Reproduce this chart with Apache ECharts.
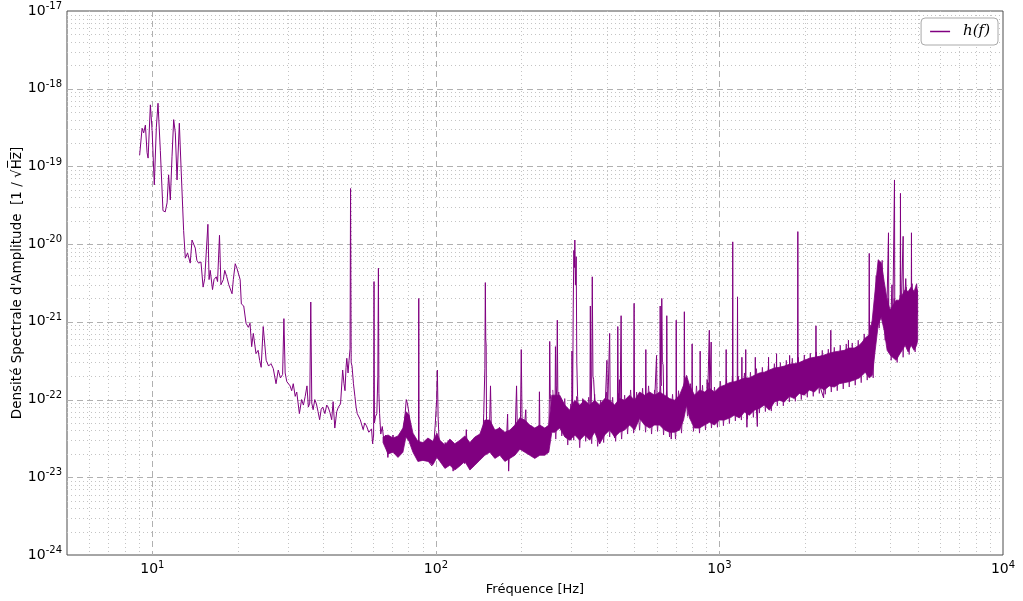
<!DOCTYPE html>
<html>
<head>
<meta charset="utf-8">
<script src="https://cdn.jsdelivr.net/npm/echarts@6/dist/echarts.min.js"></script>
<style>html,body{margin:0;padding:0;background:#fff}#c{width:1023px;height:601px}</style>
</head>
<body>
<div id="c"></div>
<script>
// ---- data ----
const xMajorTicks = [10, 100, 1000, 10000];
const yMajorTicks = [1e-24, 1e-23, 1e-22, 1e-21, 1e-20, 1e-19, 1e-18, 1e-17];

// low-frequency trace [Hz, ASD]
const lowTrace = [[9.02,1.4e-19],[9.2,3.1e-19],[9.32,2.7e-19],[9.45,3.4e-19],[9.58,1.5e-19],[9.66,1.28e-19],[9.84,6.2e-19],[9.98,2.9e-19],[10.16,5.8e-20],[10.33,3.2e-19],[10.47,6.5e-19],[10.67,1.6e-19],[10.9,2.7e-20],[11.1,2.6e-20],[11.27,3.4e-20],[11.41,7.8e-20],[11.57,3.7e-20],[11.73,1.33e-19],[11.89,4.0e-19],[12.05,2.7e-19],[12.22,6.7e-20],[12.45,3.6e-19],[12.62,1.0e-19],[12.89,1.5e-20],[13.07,6.6e-21],[13.31,7.7e-21],[13.6,5.7e-21],[13.8,1.13e-20],[14.17,8.9e-21],[14.35,6.2e-21],[14.56,5.7e-21],[14.84,5.9e-21],[15.1,2.8e-21],[15.3,3.6e-21],[15.5,3.4e-21],[15.7,1.8e-20],[15.85,3.5e-21],[16.0,4.6e-21],[16.3,2.6e-21],[16.5,3.5e-21],[16.8,3.8e-21],[16.98,3.3e-21],[17.25,1.3e-20],[17.45,3.0e-21],[17.8,3.5e-21],[18.0,4.6e-21],[18.3,3.8e-21],[18.6,3.0e-21],[19.1,2.3e-21],[19.3,3.5e-21],[19.6,5.6e-21],[19.87,4.9e-21],[20.1,5.1e-21],[20.4,3.5e-21],[20.6,1.7e-21],[21.0,1.6e-21],[21.4,9.6e-22],[21.8,8.5e-22],[22.1,9.6e-22],[22.4,4.8e-22],[22.7,7.1e-22],[23.2,3.9e-22],[23.6,4.3e-22],[23.9,3.2e-22],[24.2,2.6e-22],[24.6,8.7e-22],[25.2,3.2e-22],[25.7,2.7e-22],[26.2,2.9e-22],[26.7,2.5e-22],[27.3,1.6e-22],[27.8,2.4e-22],[28.3,1.9e-22],[28.8,2.1e-22],[29.1,1.1e-21],[29.4,2.2e-22],[29.8,1.7e-22],[30.6,1.5e-22],[31.0,1.3e-22],[31.4,1.6e-22],[31.9,1.1e-22],[32.3,1.25e-22],[33.0,6.6e-23],[33.6,1.0e-22],[34.1,8.5e-23],[34.6,1.1e-22],[35.1,1.5e-22],[35.5,8.0e-23],[35.9,9e-23],[36.2,1.8e-21],[36.5,9e-23],[36.9,7.4e-23],[37.4,1.0e-22],[37.9,8.8e-23],[38.4,7.0e-23],[38.9,5.5e-23],[39.4,7.5e-23],[39.9,8.0e-23],[40.6,6.6e-23],[41.2,8.5e-23],[41.7,8.0e-23],[42.3,6.8e-23],[42.9,5.5e-23],[43.4,9.4e-23],[44.0,4.3e-23],[44.7,7.0e-23],[45.3,8.0e-23],[46.1,8.8e-23],[46.9,2.4e-22],[47.4,1.6e-22],[47.8,1.3e-22],[48.2,2.6e-22],[48.5,3.4e-22],[49.0,2.2e-22],[49.4,3.2e-22],[49.8,4.5e-22],[50.0,5.2e-20],[50.25,3.0e-22],[50.6,2.7e-22],[51.2,1.6e-22],[51.8,1.1e-22],[52.3,8.0e-23],[52.8,6.6e-23],[53.5,7.0e-23],[54.1,5.5e-23],[54.7,5.2e-23],[55.4,4.1e-23],[56.1,5.0e-23],[56.9,4.6e-23]];

// mid-frequency trace [Hz, ASD]
const midTrace = [[58.0,3.8e-23],[58.7,3.6e-23],[59.3,4.2e-23],[59.8,2.7e-23],[60.3,3.5e-23],[60.5,3.3e-21],[60.7,5.0e-23],[61.2,6.0e-23],[61.9,6.6e-23],[62.4,2.0e-22],[62.7,4.9e-21],[62.95,1.2e-22],[63.3,6.6e-23],[63.9,3.6e-23],[64.7,4.5e-23],[65.5,3.0e-23],[66.6,3.5e-23],[67.7,1.8e-23],[68.8,3.2e-23],[69.9,2.7e-23],[70.6,3.5e-23],[71.4,2.0e-23],[72.5,2.8e-23],[73.6,3.0e-23],[74.6,2.0e-23],[75.7,2.3e-23],[76.8,4.0e-23],[77.9,6.6e-23],[78.6,1.0e-22],[79.4,8.8e-23],[80.2,7.0e-23],[81.1,4.6e-23],[82.2,3.5e-23],[83.3,2.7e-23],[84.6,2.2e-23],[86.0,1.8e-23],[86.8,2.5e-23],[87.0,2.0e-21],[87.25,2.5e-23],[88.3,2.5e-23],[89.7,2.0e-23],[91.3,1.66e-23],[92.6,2.5e-23],[94.0,2.2e-23],[95.3,1.5e-23],[96.8,1.4e-23],[98.2,2.5e-23],[99.4,4.6e-23],[100.6,1.0e-22],[101.2,2.4e-22],[101.8,6.0e-23],[102.6,3.0e-23],[103.5,2.5e-23],[105.0,1.8e-23],[106.4,1.66e-23],[107.8,2.8e-23],[109.2,2.7e-23],[110.6,1.8e-23],[112.0,1.8e-23],[113.5,2.5e-23],[115.0,1.2e-23],[116.5,2.0e-23],[118.0,2.5e-23],[119.5,1.6e-23],[121.0,1.4e-23],[122.8,2.2e-23],[124.7,2.0e-23],[126.3,1.5e-23],[128.0,4.1e-23],[129.9,1.4e-23],[131.5,2.0e-23],[133.2,2.5e-23],[135.0,1.7e-23],[137.0,1.5e-23],[139.0,2.5e-23],[141.2,3.0e-23],[142.9,2.0e-23],[144.8,1.8e-23],[146.3,3.0e-23],[147.5,6.6e-23],[148.8,2.5e-22],[149.4,3.2e-21],[149.9,6.0e-22],[150.4,5.0e-22],[150.9,3.5e-23],[151.5,4.6e-23],[153.0,2.5e-23],[154.5,4.0e-23],[155.8,1.5e-22],[157.0,3.5e-23],[158.5,2.2e-23],[160.0,3.0e-23],[161.5,2.0e-23],[163.0,2.5e-23],[165.0,3.0e-23],[167.5,4.4e-23],[170.0,2.5e-23],[172.5,2.0e-23],[175.0,3.0e-23],[177.0,2.5e-23],[179.0,6.5e-23],[180.5,1.2e-23],[182.3,3.0e-23],[184.4,3.5e-23],[186.0,2.2e-23],[188.0,2.5e-23],[190.0,3.0e-23],[192.5,1.5e-22],[194.0,3.0e-23],[197.0,3.5e-23],[198.7,5.0e-23],[200.0,4.4e-22],[201.5,4.0e-23],[204.0,3.5e-23],[207.5,7.4e-23],[209.0,3.0e-23],[211.0,3.0e-23],[214.0,4.0e-23],[216.8,4.6e-23],[219.5,3.0e-23],[222.3,2.5e-23],[225.0,3.5e-23],[228.0,3.5e-23],[231.0,4.0e-23],[231.8,1.26e-22],[232.8,3.5e-23],[236.0,3.0e-23],[240.0,2.5e-23],[243.0,3.5e-23],[246.0,3.0e-23],[250.0,3.2e-23]];

// high-frequency trace [Hz, ASD] (lines and mid-band level)
const highTrace = [[251.3,1.0e-22],[252.0,5.6e-22],[253.0,1.2e-22],[256.0,7.0e-23],[260.0,6.0e-23],[263.0,5.0e-23],[264.0,4.8e-22],[265.5,1.0e-22],[267.0,1.5e-22],[268.0,1.05e-21],[269.5,6.0e-23],[273.0,7.0e-23],[276.0,7.0e-23],[280.0,8.8e-23],[284.0,5.0e-23],[288.0,6.0e-23],[292.0,4.1e-23],[296.0,5.0e-23],[299.0,3.0e-23],[301.0,4.0e-23],[302.0,4.2e-22],[303.5,8.0e-23],[305.0,1.5e-21],[306.5,8.3e-21],[308.0,5.0e-21],[309.0,1.13e-20],[310.5,3.0e-21],[312.5,6.9e-21],[314.0,3.0e-22],[316.0,1.1e-22],[320.0,5.0e-23],[322.5,3.2e-23],[326.0,6.0e-23],[331.0,1.0e-22],[336.0,6.0e-23],[340.0,8.8e-23],[345.0,6.0e-23],[349.0,4.1e-23],[350.5,1.6e-21],[352.0,6.0e-23],[354.5,2.0e-22],[356.0,3.8e-21],[358.0,2.0e-22],[360.0,1.8e-22],[364.0,8.0e-23],[368.0,6.0e-23],[373.0,5.0e-23],[378.0,2.7e-23],[383.0,6.0e-23],[388.0,8.8e-23],[394.0,6.0e-23],[399.0,6.0e-23],[401.0,3.2e-22],[403.0,6.0e-23],[408.5,6.0e-23],[410.0,7.1e-22],[412.0,6.0e-23],[418.0,5.0e-23],[427.0,3.2e-23],[432.0,6.0e-23],[436.5,7.0e-23],[438.0,8.7e-22],[440.0,7.0e-23],[444.0,1.8e-22],[446.0,7.0e-23],[448.5,7.0e-23],[450.0,1.2e-21],[452.0,7.0e-23],[460.0,6.0e-23],[467.0,5.1e-23],[474.0,6.5e-23],[480.0,8.0e-23],[490.0,6.0e-23],[498.0,7.0e-23],[500.0,1.73e-21],[502.0,7.0e-23],[510.0,6.0e-23],[521.0,1.1e-22],[528.0,6.0e-23],[535.0,7.0e-23],[542.0,7.0e-23],[548.0,7.0e-23],[550.0,4.4e-22],[552.0,7.0e-23],[560.0,6.5e-23],[570.0,4.6e-23],[580.0,6.0e-23],[589.0,7.4e-23],[597.0,7.0e-23],[600.0,3.7e-22],[603.0,7.0e-23],[610.0,7.0e-23],[616.5,7.0e-23],[618.0,1.6e-21],[620.0,2.0e-22],[623.0,1.5e-22],[626.0,2.0e-21],[629.0,3.0e-22],[633.0,2.8e-22],[637.0,7.0e-23],[644.0,6.5e-23],[650.5,7.0e-23],[652.0,1.2e-21],[654.0,7.0e-23],[662.0,7.0e-23],[670.0,6.0e-23],[676.0,3.1e-23],[684.0,7.0e-23],[695.0,7.0e-23],[702.5,7.0e-23],[704.0,1.05e-21],[706.0,7.0e-23],[720.0,7.5e-23],[735.0,7.0e-23],[745.0,1.0e-22],[750.5,1.5e-22],[752.0,1.35e-21],[754.0,2.0e-22],[765.0,2.0e-22],[775.0,1.0e-22],[790.0,7.0e-23],[799.5,7.5e-23],[801.0,5.2e-22],[803.0,7.5e-23],[820.0,7.5e-23],[840.0,7.0e-23],[853.5,7.5e-23],[855.0,4.2e-22],[857.0,7.5e-23],[880.0,8.0e-23],[903.0,8.0e-23],[905.0,1.8e-22],[907.0,8.0e-23],[918.0,8.0e-23],[921.0,7.8e-22],[924.0,1.0e-22],[933.0,1.0e-22],[935.0,5.5e-22],[937.0,9.0e-23],[960.0,9.0e-23],[990.0,9.0e-23],[1020.0,9.5e-23],[1053.0,9.5e-23],[1056.0,4.4e-22],[1059.0,1.0e-22],[1090.0,1.0e-22],[1111.0,1.0e-22],[1114.0,1.07e-20],[1117.0,1.0e-22],[1155.0,1.0e-22],[1158.0,2.1e-21],[1161.0,1.0e-22],[1197.0,1.1e-22],[1200.0,3.5e-22],[1203.0,1.1e-22],[1235.0,1.1e-22],[1238.0,4.4e-22],[1241.0,1.1e-22],[1250.0,4.4e-23],[1258.0,1.1e-22],[1300.0,1.2e-22],[1335.0,1.2e-22],[1338.0,3.5e-22],[1341.0,1.2e-22],[1360.0,4.5e-23],[1368.0,1.3e-22],[1420.0,1.3e-22],[1486.0,1.4e-22],[1490.0,3.5e-22],[1494.0,1.4e-22],[1586.0,1.5e-22],[1590.0,3.9e-22],[1594.0,1.5e-22],[1680.0,1.6e-22],[1764.0,1.7e-22],[1768.0,3.7e-22],[1772.0,1.7e-22],[1885.0,1.8e-22],[1890.0,1.45e-20],[1895.0,1.8e-22],[2000.0,1.9e-22],[2100.0,2.0e-22],[2185.0,2.1e-22],[2190.0,8.9e-22],[2195.0,2.1e-22],[2330.0,1.05e-22],[2340.0,2.2e-22],[2465.0,2.4e-22],[2470.0,7.8e-22],[2475.0,2.4e-22],[2650.0,2.6e-22],[2843.0,2.8e-22],[2850.0,5.8e-22],[2857.0,2.8e-22],[3000.0,3.0e-22],[3150.0,3.2e-22],[3280.0,4.0e-22],[3365.0,4.0e-22],[3375.0,7.6e-21],[3385.0,4.0e-22],[3440.0,3.0e-22],[3500.0,5.0e-22],[3600.0,2.5e-21],[3660.0,4.0e-21],[3800.0,2.0e-21],[3880.0,7.0e-22],[3935.0,7.0e-22],[3946.0,1.4e-20],[3957.0,7.0e-22],[4000.0,6.0e-22],[4060.0,3.0e-21],[4080.0,7.0e-22],[4130.0,7.0e-22],[4143.0,6.7e-20],[4155.0,7.0e-22],[4200.0,6.0e-22],[4338.0,8.0e-22],[4349.0,4.5e-20],[4360.0,9.0e-22],[4400.0,9.0e-22],[4445.0,1.26e-20],[4455.0,1.0e-21],[4510.0,1.0e-21],[4540.0,3.6e-21],[4600.0,1.0e-21],[4745.0,1.0e-21],[4755.0,1.4e-20],[4765.0,1.0e-21],[4850.0,1.0e-21],[4950.0,1.2e-21],[5000.0,1.4e-21]];

// fine noise excursions at the edges of the dense band [Hz, ASD]
const noiseTrace = [[258.3,1.33e-22],[264.7,3.1e-23],[271.2,1.25e-22],[277.9,3.4e-23],[284.7,1.03e-22],[291.7,2.6e-23],[298.9,8.8e-23],[306.3,3.0e-23],[313.8,1.1e-22],[321.5,2.4e-23],[329.4,1.03e-22],[337.5,2.9e-23],[345.8,1.07e-22],[354.3,2.7e-23],[363.0,1.17e-22],[372.0,2.5e-23],[381.1,9.8e-23],[390.5,2.8e-23],[400.1,1.25e-22],[410.0,3.3e-23],[420.1,1.07e-22],[430.4,2.9e-23],[441.0,1.2e-22],[451.9,3.1e-23],[463.0,1.14e-22],[474.4,3.6e-23],[486.1,1.33e-22],[498.1,3.7e-23],[510.3,1.25e-22],[522.8,4.05e-23],[535.7,1.4e-22],[548.9,3.8e-23],[562.4,1.5e-22],[576.2,3.6e-23],[590.5,1.33e-22],[605.0,3.9e-23],[619.9,1.5e-22],[635.2,3.5e-23],[650.8,1.3e-22],[666.8,3.3e-23],[683.2,1.17e-22],[700.0,3.1e-23],[717.3,1.3e-22],[734.9,3.7e-23],[753.0,2.0e-22],[771.5,6.1e-23],[790.5,1.6e-22],[810.0,3.9e-23],[829.9,1.5e-22],[850.5,3.7e-23],[871.4,1.53e-22],[892.9,4.05e-23],[914.8,1.65e-22],[937.3,4.3e-23],[960.4,1.45e-22],[984.0,4.4e-23],[1008,1.72e-22],[1033,4.6e-23],[1059,1.85e-22],[1084,4.9e-23],[1111,1.95e-22],[1138,5.3e-23],[1166,2.0e-22],[1195,5.45e-23],[1225,2.2e-22],[1255,5.6e-23],[1286,2.25e-22],[1317,5.9e-23],[1350,2.5e-22],[1383,6.7e-23],[1417,2.6e-22],[1452,7.0e-23],[1488,2.7e-22],[1524,7.1e-23],[1562,2.9e-22],[1600,8.3e-23],[1640,3.0e-22],[1680,8.3e-23],[1721,3.2e-22],[1764,9.3e-23],[1807,3.4e-22],[1852,9.5e-23],[1897,3.5e-22],[1944,1.0e-22],[1992,3.75e-22],[2041,1.07e-22],[2091,3.95e-22],[2142,1.1e-22],[2195,4.1e-22],[2250,1.2e-22],[2305,4.3e-22],[2362,1.17e-22],[2420,4.45e-22],[2480,1.25e-22],[2541,4.7e-22],[2603,1.3e-22],[2667,5.0e-22],[2733,1.37e-22],[2800,5.2e-22],[2869,1.45e-22],[2940,5.35e-22],[3012,1.53e-22],[3086,5.8e-22],[3162,1.65e-22],[3240,7.0e-22],[3320,1.78e-22],[3402,9.1e-22],[3485,1.9e-22],[3571,3.9e-21],[3659,8.3e-22],[3749,6.2e-21],[3841,5.8e-22],[3936,2.0e-21],[4033,3.2e-22],[4132,2.0e-21],[4234,3.0e-22],[4338,2.2e-21],[4445,3.5e-22],[4554,2.8e-21],[4667,3.8e-22],[4781,3.1e-21],[4899,4.1e-22],[4995,2.6e-21]];

// envelope of the dense noise band: frequency, upper and lower ASD
const bandFreq = [65.1,67.8,70.6,73.5,76.5,78.4,80.4,83.0,86.4,90.0,93.7,97.6,100.8,
 103.3,107.6,112.0,116.6,121.5,126.5,131.8,137.2,142.9,148.8,155.0,161.4,168.1,175.1,182.3,189.9,197.7,205.9,214.3,223.2,232.5,242.1,250.1,
 256.3,262.6,
 273.4,284.8,296.5,308.8,321.4,334.8,348.6,363.0,378.0,393.7,410.0,427.0,444.6,463.0,482.1,502.1,522.8,544.5,567.0,590.5,614.8,640.3,666.8,694.4,723.2,
 747.1,765.4,
 784.2,816.6,850.5,885.7,922.2,960.4,1000,1041,1084,1129,1176,1225,1275,1328,1383,1440,1500,1562,1627,1694,1764,1837,1913,1992,2075,2161,2250,2343,2440,2541,2646,2755,2869,2988,3112,
 3188,3267,
 3375,3457,3542,3629,3718,3810,3903,3999,4097,4198,4304,4409,4517,4628,4742,4858,4960,
 5000];
const bandHi = [3.3e-23,3.5e-23,3.2e-23,3.4e-23,4.3e-23,7.0e-23,6.3e-23,3.7e-23,2.9e-23,2.8e-23,3.2e-23,2.9e-23,3.7e-23,
 3.0e-23,2.6e-23,3.1e-23,2.7e-23,3.0e-23,3.4e-23,2.8e-23,3.3e-23,3.6e-23,5.45e-23,5.45e-23,4.05e-23,4.3e-23,3.8e-23,4.05e-23,4.7e-23,5.8e-23,5.45e-23,4.7e-23,4.3e-23,4.7e-23,4.3e-23,4.7e-23,
 1.14e-22,1.14e-22,
 1.14e-22,8.5e-23,7.3e-23,9.8e-23,8.5e-23,9.8e-23,8.5e-23,9.8e-23,8.5e-23,1.03e-22,9.8e-23,8.5e-23,1.03e-22,9.8e-23,1.14e-22,9.8e-23,1.25e-22,1.14e-22,1.25e-22,1.14e-22,1.25e-22,1.14e-22,1.03e-22,9.8e-23,1.14e-22,
 1.53e-22,2.05e-22,
 1.53e-22,1.14e-22,1.33e-22,1.25e-22,1.4e-22,1.25e-22,1.45e-22,1.53e-22,1.65e-22,1.7e-22,1.78e-22,1.9e-22,1.9e-22,2.05e-22,2.2e-22,2.25e-22,2.4e-22,2.55e-22,2.6e-22,2.7e-22,2.85e-22,2.9e-22,3.0e-22,3.2e-22,3.4e-22,3.5e-22,3.6e-22,3.75e-22,3.95e-22,4.1e-22,4.2e-22,4.3e-22,4.6e-22,4.6e-22,5.0e-22,
 5.5e-22,6.2e-22,
 6.8e-22,1.05e-21,2.6e-21,6.3e-21,5.8e-21,3.3e-21,1.9e-21,1.42e-21,1.65e-21,1.9e-21,1.9e-21,2.2e-21,2.6e-21,2.45e-21,2.8e-21,2.45e-21,3.1e-21,
 2.2e-21];
const bandLo = [2.8e-23,2.0e-23,2.1e-23,1.8e-23,2.1e-23,3.3e-23,2.9e-23,2.1e-23,1.6e-23,1.65e-23,1.6e-23,1.45e-23,1.8e-23,
 1.6e-23,1.3e-23,1.43e-23,1.24e-23,1.4e-23,1.6e-23,1.24e-23,1.43e-23,1.66e-23,1.92e-23,2.1e-23,1.75e-23,1.92e-23,1.6e-23,1.75e-23,1.92e-23,2.3e-23,2.1e-23,1.92e-23,1.75e-23,1.92e-23,1.92e-23,2.1e-23,
 3.8e-23,3.8e-23,
 4.3e-23,3.3e-23,3.0e-23,3.5e-23,3.0e-23,3.5e-23,3.0e-23,3.8e-23,2.7e-23,3.5e-23,4.05e-23,3.3e-23,3.8e-23,4.05e-23,4.7e-23,4.05e-23,5.7e-23,4.7e-23,4.3e-23,4.7e-23,4.7e-23,4.05e-23,3.8e-23,3.8e-23,4.05e-23,
 5.45e-23,8.5e-23,
 5.8e-23,4.3e-23,4.3e-23,4.7e-23,5.1e-23,4.7e-23,5.45e-23,5.45e-23,5.8e-23,6.3e-23,5.8e-23,6.9e-23,6.3e-23,7.3e-23,7.7e-23,8.5e-23,7.3e-23,9.3e-23,9.8e-23,9.3e-23,1.1e-22,1.03e-22,1.2e-22,1.14e-22,1.33e-22,1.25e-22,1.45e-22,1.33e-22,1.5e-22,1.45e-22,1.6e-22,1.65e-22,1.7e-22,1.78e-22,1.9e-22,
 2.05e-22,2.25e-22,
 1.9e-22,2.05e-22,4.3e-22,9.1e-22,1.15e-21,7.8e-22,4.3e-22,3.75e-22,3.45e-22,3.2e-22,3.75e-22,4.3e-22,5.0e-22,4.1e-22,5.0e-22,4.3e-22,5.0e-22,
 5.8e-22];

// ---- drawing ----
const PURPLE = '#800080';
const traceData = lowTrace.concat(midTrace, highTrace);

function isPow10(v) { const e = Math.log10(v); return Math.abs(e - Math.round(e)) < 1e-6; }
function powLabel(v) {
  if (!isPow10(v)) return '';
  return '{b|10}{s|' + Math.round(Math.log10(v)) + '}';
}
const richLbl = {
  b: { fontSize: 14, fontFamily: 'DejaVu Sans', color: '#000' },
  s: { fontSize: 10, fontFamily: 'DejaVu Sans', color: '#000', padding: [0, 0, 9, 0] }
};

// grid-line positions (major at decades, minor at 2..9 x decade)
const xMinor = [], yMinor = [];
[1, 10, 100, 1000].forEach(function (d) {
  for (let k = 2; k <= 9; k++) { if (d * k > 5 && d * k < 10000) xMinor.push(d * k); }
});
yMajorTicks.forEach(function (d) {
  if (d < 1e-17) for (let k = 2; k <= 9; k++) yMinor.push(d * k);
});

const chart = echarts.init(document.getElementById('c'), null, { renderer: 'canvas' });
chart.setOption({
  animation: false,
  backgroundColor: '#fff',
  grid: { left: 67, right: 20, top: 11, bottom: 46, outerBoundsMode: 'none', containLabel: false,
          show: true, borderColor: '#4d4d4d', borderWidth: 1, backgroundColor: 'transparent' },
  legend: {
    data: [{ name: 'h(f)', icon: 'rect' }],
    right: 25, top: 18,
    itemWidth: 20, itemHeight: 1.5,
    padding: [6, 8, 6, 9],
    borderColor: '#aaaaaa', borderWidth: 1, borderRadius: 4,
    backgroundColor: '#fff',
    textStyle: { fontFamily: 'DejaVu Serif', fontStyle: 'italic', fontSize: 15, color: '#000', padding: [0, 0, 0, 8] }
  },
  xAxis: {
    type: 'log', logBase: 10, min: 5, max: 10000,
    name: 'Fréquence [Hz]', nameLocation: 'middle', nameGap: 28, nameMoveOverlap: false,
    nameTextStyle: { fontFamily: 'DejaVu Sans', fontSize: 13, color: '#000' },
    axisLine: { show: false }, axisTick: { show: false },
    splitLine: { show: false }, minorSplitLine: { show: false },
    axisLabel: { customValues: xMajorTicks, formatter: powLabel, rich: richLbl, margin: 5 }
  },
  yAxis: {
    type: 'log', logBase: 10, min: 1e-24, max: 1e-17,
    name: "Densité Spectrale d'Amplitude  [1 / \u221AH\u0305z\u0305]", nameLocation: 'middle', nameGap: 43, nameRotate: 90,
    nameMoveOverlap: false,
    nameTextStyle: { fontFamily: 'DejaVu Sans', fontSize: 13.5, color: '#000' },
    axisLine: { show: false }, axisTick: { show: false },
    splitLine: { show: false }, minorSplitLine: { show: false },
    axisLabel: { customValues: yMajorTicks, formatter: powLabel, rich: richLbl, margin: 5 }
  },
  series: [
    {
      type: 'custom', name: 'grid', silent: true, z: 1,
      data: [[5, 1e-24]],
      renderItem: function (params, api) {
        const lo = api.coord([5, 1e-24]), hi = api.coord([10000, 1e-17]);
        const children = [];
        const major = { stroke: '#b0b0b0', lineDash: [6, 4], lineWidth: 1 };
        const minor = { stroke: '#c4c4c4', lineDash: [1, 3], lineWidth: 1 };
        function vline(v, st) {
          const x = Math.round(api.coord([v, 1e-24])[0]) + 0.5;
          children.push({ type: 'line', shape: { x1: x, y1: hi[1], x2: x, y2: lo[1] }, style: st });
        }
        function hline(v, st) {
          const y = Math.round(api.coord([5, v])[1]) + 0.5;
          children.push({ type: 'line', shape: { x1: lo[0], y1: y, x2: hi[0], y2: y }, style: st });
        }
        xMinor.forEach(function (v) { vline(v, minor); });
        yMinor.forEach(function (v) { hline(v, minor); });
        xMajorTicks.forEach(function (v) { if (v < 10000) vline(v, major); });
        yMajorTicks.forEach(function (v) { if (v > 1e-24 && v < 1e-17) hline(v, major); });
        return { type: 'group', children: children };
      }
    },
    {
      type: 'custom', name: 'band', silent: true, z: 2,
      data: [[bandFreq[0], bandHi[0]]],
      renderItem: function (params, api) {
        const pts = [];
        for (let i = 0; i < bandFreq.length; i++) pts.push(api.coord([bandFreq[i], bandHi[i]]));
        for (let i = bandFreq.length - 1; i >= 0; i--) pts.push(api.coord([bandFreq[i], bandLo[i]]));
        return { type: 'polygon', shape: { points: pts }, style: { fill: PURPLE, stroke: PURPLE, lineWidth: 0.8 } };
      }
    },
    {
      type: 'line', name: 'h(f)', data: noiseTrace, showSymbol: false, symbol: 'none', z: 3,
      sampling: null, silent: true,
      lineStyle: { color: PURPLE, width: 0.8 }, itemStyle: { color: PURPLE }
    },
    {
      type: 'line', name: 'h(f)', data: traceData, showSymbol: false, symbol: 'none', z: 4,
      sampling: null,
      lineStyle: { color: PURPLE, width: 1 }, itemStyle: { color: PURPLE }
    }
  ]
});
</script>
</body>
</html>
